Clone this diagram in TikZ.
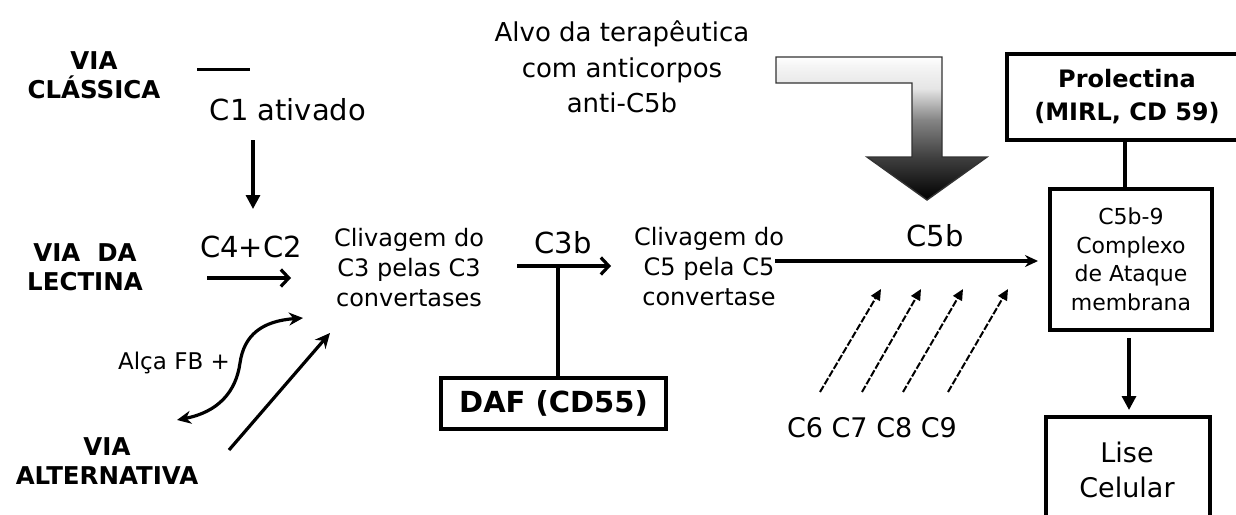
\documentclass[tikz,border=0pt]{standalone}
\usepackage{fontspec}
\setmainfont{DejaVu Sans}
\usetikzlibrary{arrows.meta}
\pgfdeclareverticalshading{lshade}{100bp}{color(0bp)=(black); color(25bp)=(black); color(40bp)=(black!75); color(53bp)=(black!48); color(64bp)=(black!10); color(72bp)=(black!4); color(75bp)=(white); color(100bp)=(white)}
\begin{document}
\begin{tikzpicture}[x=1pt,y=-1pt,
  lbl/.style={inner sep=0pt, align=center},
  bl/.style={lbl, font=\bfseries\fontsize{24.5}{29}\selectfont},
  big/.style={lbl, font=\fontsize{29}{34}\selectfont},
  mid/.style={lbl, font=\fontsize{24}{30}\selectfont},
  boxed/.style={draw, line width=3.6pt, inner sep=0pt, align=center},
  ln/.style={line width=3.2pt},
  arr/.style={line width=3.2pt, -{Triangle[length=14pt,width=14pt]}},
  barb/.style={line width=3.2pt, -{Straight Barb[length=8pt,width=17pt]}},
  curv/.style={line width=3.2pt, {Stealth[length=14pt,width=13pt]}-{Stealth[length=14pt,width=13pt]}},
  dsh/.style={line width=2pt, dash pattern=on 7pt off 2pt, -{Triangle[length=11pt,width=10pt]}}]
\clip (0,0) rectangle (1236,514);
\fill[white] (0,0) rectangle (1236,514);

% left pathway labels
\node[bl] (vc) at (94,75) {VIA\\CLÁSSICA};
\node[bl] (vl) at (85,267) {VIA\ \ DA\\LECTINA};
\node[bl] (va) at (107,461) {VIA\\ALTERNATIVA};

% C1 ativado
\coordinate (bar1) at (197,69);
\coordinate (bar2) at (250,69);
\draw[line width=3pt] (bar1) -- (bar2);
\node[big] (c1) at (288,110) {C1 ativado};
\coordinate (d1) at (253,140);
\coordinate (d2) at (253,209);
\draw[arr] (d1) -- (d2);

% C4+C2
\node[big] (c42) at (251,247) {C4+C2};
\coordinate (h1) at (207,278);
\coordinate (h2) at (291,278);
\draw[barb] (h1) -- (h2);

% Alternative pathway arrows
\node[lbl, font=\fontsize{23}{27}\selectfont] (fb) at (174,363) {Alça FB +};
\coordinate (s1) at (177,420);
\coordinate (s2) at (303,318);
\draw[curv] (s1) .. controls (218,412) and (236,392) .. (240,363)
               .. controls (244,335) and (262,321) .. (s2);
\coordinate (p1) at (229,450);
\coordinate (p2) at (330,333);
\draw[line width=3.2pt, -{Stealth[length=15pt,width=14pt]}] (p1) -- (p2);

% C3 cleavage
\node[mid] (cl3) at (409,268) {Clivagem do\\C3 pelas C3\\convertases};
\node[big] (c3b) at (563,243) {C3b};
\coordinate (e1) at (517,266);
\coordinate (e2) at (611,266);
\draw[barb] (e1) -- (e2);
\node[boxed, minimum width=225pt, minimum height=51pt, font=\bfseries\fontsize{29}{34}\selectfont] (daf) at (553.5,403.5) {DAF (CD55)};
\coordinate (j) at (558,266);
\draw[ln] (j) -- (j |- daf.north);

% C5 cleavage
\node[mid] (cl5) at (709,267) {Clivagem do\\C5 pela C5\\convertase};
\node[big] (c5b) at (935,236) {C5b};

% therapy target
\node[lbl, font=\fontsize{26}{35.5}\selectfont] (alvo) at (622,67) {Alvo da terapêutica\\com anticorpos\\anti-C5b};
\shade[shading=lshade, draw=black!80, line width=1.4pt]
  (776,57) -- (942,57) -- (942,157) -- (987,157) -- (927,200) -- (867,157)
  -- (912,157) -- (912,83) -- (776,83) -- cycle;

% C6-C9
\node[big, font=\fontsize{27}{32}\selectfont] (c69) at (872,428) {C6 C7 C8 C9};
\coordinate (t1a) at (820,392); \coordinate (t1b) at (881,289);
\coordinate (t2a) at (862,392); \coordinate (t2b) at (921,289);
\coordinate (t3a) at (903,392); \coordinate (t3b) at (963,289);
\coordinate (t4a) at (948,392); \coordinate (t4b) at (1008,289);
\draw[dsh] (t1a) -- (t1b);
\draw[dsh] (t2a) -- (t2b);
\draw[dsh] (t3a) -- (t3b);
\draw[dsh] (t4a) -- (t4b);

% right boxes
\node[boxed, minimum width=240pt, minimum height=86pt, font=\bfseries\fontsize{24}{33}\selectfont] (prol) at (1127,97) {Prolectina\\(MIRL, CD 59)};
\node[boxed, minimum width=162pt, minimum height=141pt, font=\fontsize{22}{28.5}\selectfont] (mac) at (1131,259.5) {C5b-9\\Complexo\\de Ataque\\membrana};
\node[boxed, minimum width=164pt, minimum height=120pt] (lise) at (1128,477) {};
\node[lbl, font=\fontsize{27}{35}\selectfont] (lisetxt) at (1127,470) {Lise\\Celular};

\coordinate (k) at (1125,0);
\draw[ln] (prol.south -| k) -- (mac.north -| k);
\coordinate (m1) at (775,261);
\coordinate (m2) at (1038,261);
\draw[ln, -{Stealth[length=13pt,width=12pt]}] (m1) -- (m2);
\coordinate (l1) at (1129,338);
\coordinate (l2) at (1129,410);
\draw[arr] (l1) -- (l2);
\end{tikzpicture}
\end{document}
